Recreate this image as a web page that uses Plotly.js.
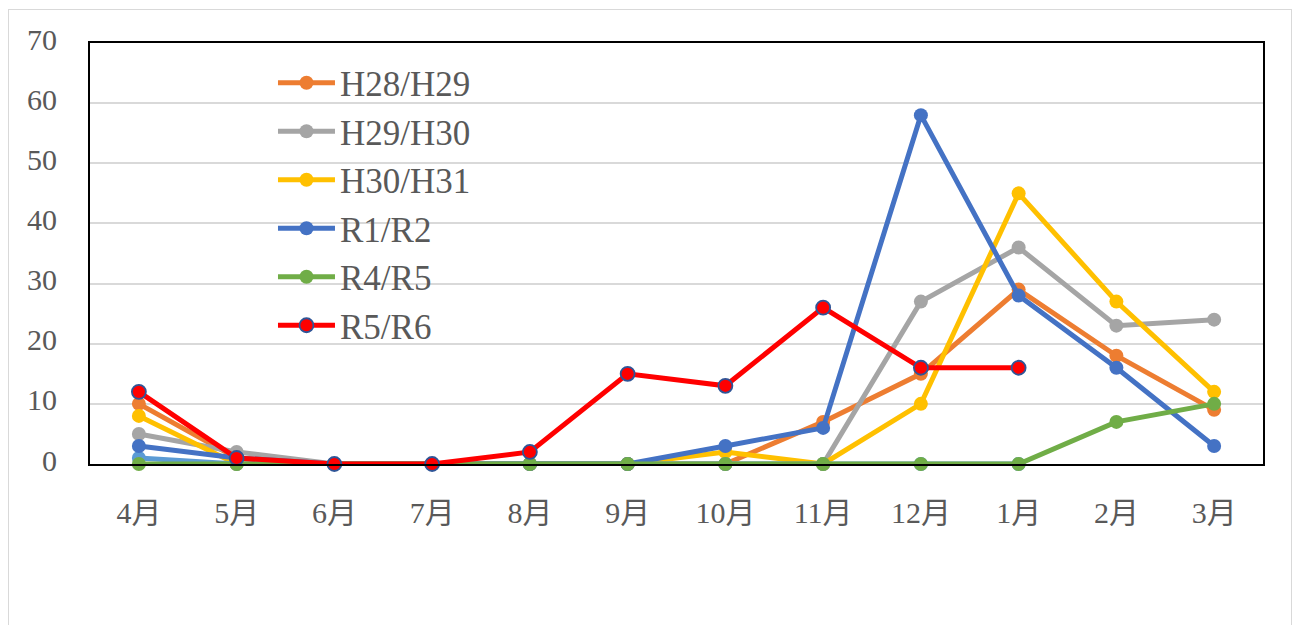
<!DOCTYPE html>
<html>
<head>
<meta charset="utf-8">
<script src="https://cdn.plot.ly/plotly-3.0.1.min.js"></script>
<style>
  html, body { margin: 0; padding: 0; background: #fff; }
  #chart { position: absolute; left: 0; top: 0; width: 1293px; height: 625px; }
  #frame { position: absolute; left: 8px; top: 9px; width: 1284px; height: 640px;
           border: 1.5px solid #d9d9d9; box-sizing: border-box; pointer-events: none; }
</style>
</head>
<body>
<div id="chart"></div>
<div id="frame"></div>
<script>
const months = ["4月","5月","6月","7月","8月","9月","10月","11月","12月","1月","2月","3月"];
const h28h29 = [10, 1, 0, 0, 0, 0, 0, 7, 15, 29, 18, 9];
const h29h30 = [5, 2, 0, 0, 0, 0, 0, 0, 27, 36, 23, 24];
const h30h31 = [8, 0, 0, 0, 0, 0, 2, 0, 10, 45, 27, 12];
const r1r2   = [3, 1, 0, 0, 0, 0, 3, 6, 58, 28, 16, 3];
const hidden = [1, 0, 0, 0, 0, 0, 0, 0, 0, 0, null, null];
const r4r5   = [0, 0, 0, 0, 0, 0, 0, 0, 0, 0, 7, 10];
const r5r6   = [12, 1, 0, 0, 2, 15, 13, 26, 16, 16, null, null];

const idx = months.map((m, i) => i);

function tr(name, y, color, opts) {
  opts = opts || {};
  return {
    type: 'scatter', mode: 'lines+markers', name: name, x: idx, y: y,
    line: { color: color, width: 5 },
    marker: { color: opts.mfill || color, size: 14,
              line: { color: opts.mline || color, width: opts.mlw || 0 } },
    cliponaxis: false, connectgaps: false,
    showlegend: opts.showlegend !== false,
    hoverinfo: 'x+y+name'
  };
}

const data = [
  tr('H28/H29', h28h29, '#ED7D31'),
  tr('H29/H30', h29h30, '#A5A5A5'),
  tr('H30/H31', h30h31, '#FFC000'),
  tr('', hidden, '#5B9BD5', { showlegend: false }),
  tr('R1/R2', r1r2, '#4472C4'),
  tr('R4/R5', r4r5, '#70AD47'),
  tr('R5/R6', r5r6, '#FF0000', { mfill: '#FF0000', mline: '#2F5597', mlw: 1.8 })
];

const fontFam = '"Liberation Serif", "Noto Sans CJK JP", serif';

const layout = {
  width: 1293, height: 625,
  margin: { l: 90, r: 30, t: 43, b: 161 },
  paper_bgcolor: '#ffffff', plot_bgcolor: '#ffffff',
  font: { family: fontFam, color: '#595959', size: 30 },
  showlegend: true,
  legend: {
    x: 0.156, xanchor: 'left', y: 0.975, yanchor: 'top',
    bgcolor: 'rgba(0,0,0,0)', font: { family: fontFam, size: 35, color: '#595959' },
    itemwidth: 57, tracegroupgap: 0
  },
  xaxis: {
    range: [-0.5, 11.5], tickmode: 'array', tickvals: idx, ticktext: months,
    showgrid: false, zeroline: false,
    showline: true, linecolor: '#000000', linewidth: 2, mirror: true,
    ticks: '', ticklabelstandoff: 21,
    tickfont: { family: fontFam, size: 30, color: '#595959' }
  },
  yaxis: {
    range: [0, 70], tickmode: 'linear', tick0: 0, dtick: 10,
    showgrid: true, gridcolor: '#D9D9D9', gridwidth: 2, zeroline: false,
    showline: true, linecolor: '#000000', linewidth: 2, mirror: true,
    ticks: '', ticklabelstandoff: 25, ticklabelshift: -4,
    tickfont: { family: fontFam, size: 30, color: '#595959' }
  }
};

Plotly.newPlot('chart', data, layout, { displayModeBar: false, staticPlot: true });
</script>
</body>
</html>
